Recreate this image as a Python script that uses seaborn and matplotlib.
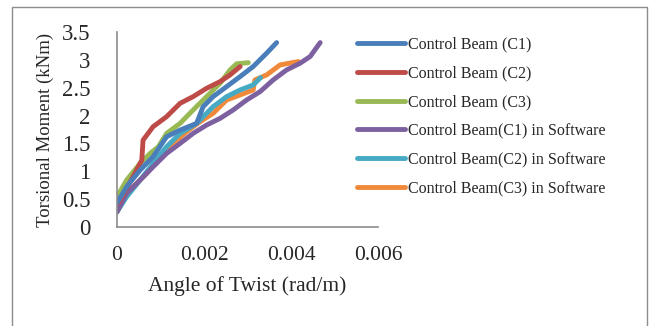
import numpy as np
import pandas as pd
import seaborn as sns
import matplotlib
matplotlib.use("Agg")
import matplotlib.pyplot as plt
from matplotlib.patches import Rectangle

# angle of twist (rad/m) and torsional moment (kNm)
c1_x = [0, 0.00022, 0.00053, 0.00083, 0.00114, 0.00145, 0.00183, 0.00198, 0.00221,
        0.00252, 0.00283, 0.00313, 0.00344, 0.00367]
c1_y = [0.43, 0.72, 1.02, 1.26, 1.62, 1.74, 1.86, 2.16, 2.34, 2.52, 2.70, 2.88, 3.12, 3.31]

c2_x = [0.00003, 0.00037, 0.00057, 0.0006, 0.00083, 0.00114, 0.00145, 0.00175, 0.00206,
        0.00237, 0.0026, 0.00283]
c2_y = [0.43, 0.90, 1.20, 1.56, 1.80, 1.98, 2.22, 2.34, 2.49, 2.61, 2.73, 2.88]

c3_x = [0, 0.00022, 0.00053, 0.00076, 0.00095, 0.00114, 0.00145, 0.00175, 0.00206,
        0.00237, 0.0026, 0.00275, 0.00302]
c3_y = [0.54, 0.84, 1.14, 1.32, 1.44, 1.68, 1.86, 2.10, 2.34, 2.58, 2.82, 2.93, 2.95]

s1_x = [0, 0.00022, 0.00053, 0.00083, 0.00114, 0.00145, 0.00175, 0.00206, 0.00237,
        0.00267, 0.00298, 0.00329, 0.00359, 0.0039, 0.00421, 0.00444, 0.00467]
s1_y = [0.27, 0.60, 0.84, 1.08, 1.32, 1.50, 1.68, 1.83, 1.95, 2.10, 2.28, 2.43, 2.64,
        2.82, 2.94, 3.06, 3.31]

s2_x = [0, 0.00022, 0.00053, 0.00083, 0.00114, 0.00145, 0.00183, 0.00221, 0.00252,
        0.00283, 0.00313, 0.0033]
s2_y = [0.27, 0.54, 0.84, 1.14, 1.44, 1.68, 1.86, 2.16, 2.34, 2.46, 2.55, 2.68]

s3_x = [0, 0.00007, 0.00037, 0.00068, 0.00099, 0.00129, 0.0016, 0.00191, 0.00221,
        0.00252, 0.00283, 0.00313, 0.00317, 0.00344, 0.00375, 0.00417]
s3_y = [0.27, 0.48, 0.72, 0.96, 1.26, 1.50, 1.71, 1.89, 2.04, 2.28, 2.37, 2.46, 2.64,
        2.73, 2.91, 2.97]

labels = ["Control Beam (C1)", "Control Beam (C2)", "Control Beam (C3)",
          "Control Beam(C1) in Software", "Control Beam(C2) in Software",
          "Control Beam(C3) in Software"]
colors = ["#4A7EBB", "#BE4B48", "#98B954", "#7D60A0", "#46AAC5", "#F08A3A"]

series = [(c1_x, c1_y), (c2_x, c2_y), (c3_x, c3_y),
          (s1_x, s1_y), (s2_x, s2_y), (s3_x, s3_y)]
frames = []
for lab, (xs, ys) in zip(labels, series):
    frames.append(pd.DataFrame({"angle": xs, "moment": ys, "beam": lab}))
df = pd.concat(frames, ignore_index=True)

sns.set_style("white")
plt.rcParams["font.family"] = ["Liberation Serif", "DejaVu Serif"]

fig = plt.figure(figsize=(6.52, 3.26), dpi=100)
ax = fig.add_axes([0.1794, 0.3037, 0.4004, 0.5981])

# draw in reverse so C1 ends up on top like the original
order = labels[::-1]
pal = dict(zip(labels, colors))
for lab in order:
    sub = df[df["beam"] == lab]
    sns.lineplot(data=sub, x="angle", y="moment", color=pal[lab], lw=3.5,
                 sort=False, estimator=None, ax=ax, label=lab,
                 solid_capstyle="round", solid_joinstyle="round")

ax.set_xlim(0, 0.006)
ax.set_ylim(0, 3.5)
ax.set_xticks([0, 0.002, 0.004, 0.006])
ax.set_xticklabels(["0", "0.002", "0.004", "0.006"])
ax.set_yticks(np.arange(0, 3.51, 0.5))
ax.set_yticklabels(["0", "0.5", "1", "1.5", "2", "2.5", "3", "3.5"])
ax.tick_params(axis="x", labelsize=15.5, length=0, pad=14)
ax.tick_params(axis="y", labelsize=16.5, length=0, pad=19)
for s in ["top", "right"]:
    ax.spines[s].set_visible(False)
for s in ["left", "bottom"]:
    ax.spines[s].set_color("#8C8C8C")
    ax.spines[s].set_linewidth(1.2)

ax.set_xlabel("Angle of Twist (rad/m)", fontsize=15.5, labelpad=8)
ax.set_ylabel("Torsional Moment (kNm)", fontsize=13.5, labelpad=6)

handles, labs = ax.get_legend_handles_labels()
hmap = dict(zip(labs, handles))
ax.get_legend().remove()
fig.legend([hmap[l] for l in labels], labels, loc="upper left",
           bbox_to_anchor=(0.525, 0.932), frameon=False, fontsize=11.5,
           handlelength=3.0, handletextpad=0.2, labelspacing=0.8)

fig.patches.append(Rectangle((12 / 652, -0.01), (647 - 12) / 652, 1 - 7 / 326 + 0.01,
                             transform=fig.transFigure, fill=False,
                             edgecolor="#8C8C8C", lw=1.0))

fig.savefig("out.png", dpi=100)
